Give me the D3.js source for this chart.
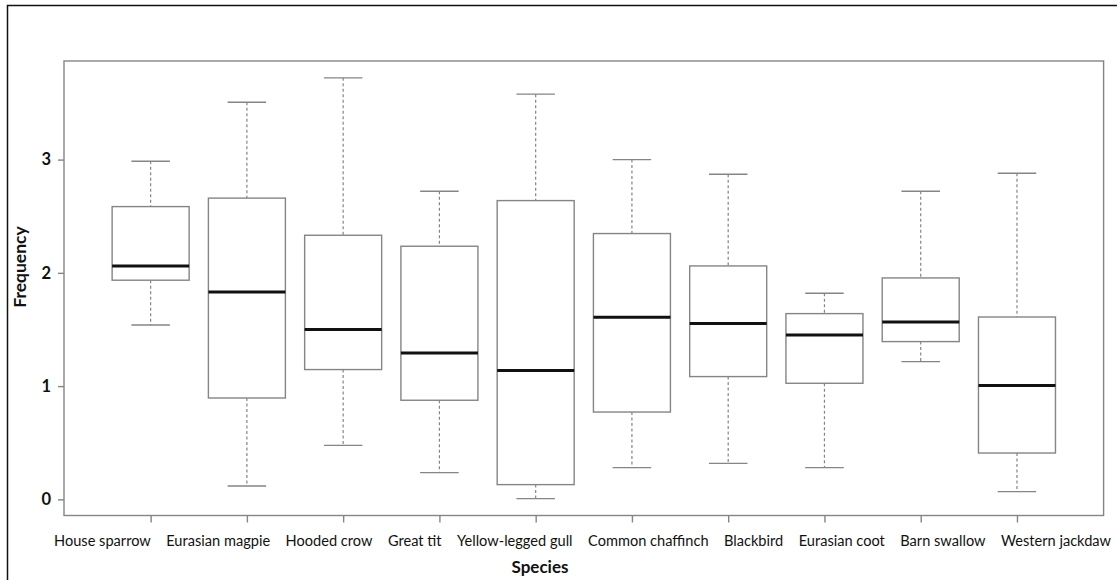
<!DOCTYPE html>
<html>
<head>
<meta charset="utf-8">
<script src="https://cdn.jsdelivr.net/npm/d3@7"></script>
<style>
  html, body { margin: 0; padding: 0; background: #fff; }
  svg { display: block; font-family: Lato, "Open Sans", sans-serif; }
</style>
</head>
<body>
<div id="chart"></div>
<script>
// Data
const species = ['House sparrow', 'Eurasian magpie', 'Hooded crow', 'Great tit', 'Yellow-legged gull',
    'Common chaffinch', 'Blackbird', 'Eurasian coot', 'Barn swallow', 'Western jackdaw'];
const whiskerLow = [1.54, 0.118, 0.477, 0.236, 0.006, 0.280, 0.318, 0.280, 1.216, 0.068];
const q1 = [1.935, 0.895, 1.146, 0.875, 0.130, 0.771, 1.084, 1.025, 1.393, 0.409];
const median = [2.06, 1.83, 1.499, 1.292, 1.137, 1.608, 1.552, 1.451, 1.566, 1.006];
const q3 = [2.585, 2.66, 2.332, 2.235, 2.638, 2.347, 2.061, 1.640, 1.955, 1.610];
const whiskerHigh = [2.985, 3.507, 3.722, 2.721, 3.578, 3.0, 2.871, 1.820, 2.721, 2.880];
const yTicks = [0, 1, 2, 3];

const width = 1117;
const height = 580;
const margin = { left: 64, right: 13.4, top: 61, bottom: 64.5 };
const boxWex = 0.8;
const frameColor = '#858585';

const svg = d3.select('#chart').append('svg')
    .attr('width', width)
    .attr('height', height);

// outer border of the figure
svg.append('rect')
    .attr('x', 7.5).attr('y', 5.5)
    .attr('width', width + 20).attr('height', height + 20)
    .attr('fill', 'none')
    .attr('stroke', '#111')
    .attr('stroke-width', 1.5);

// R style 4% padding of the ranges
const n = species.length;
const xPad = n * 0.04;
const xScale = d3.scaleLinear()
    .domain([0.5 - xPad, n + 0.5 + xPad])
    .range([margin.left, width - margin.right]);

const yMin = d3.min(whiskerLow), yMax = d3.max(whiskerHigh);
const yPad = (yMax - yMin) * 0.04;
const yScale = d3.scaleLinear()
    .domain([yMin - yPad, yMax + yPad])
    .range([height - margin.bottom, margin.top]);

const x0 = xScale.range()[0], x1 = xScale.range()[1];
const y0 = yScale.range()[1], y1 = yScale.range()[0];

// plot frame
svg.append('rect')
    .attr('x', x0).attr('y', y0)
    .attr('width', x1 - x0).attr('height', y1 - y0)
    .attr('fill', 'none')
    .attr('stroke', frameColor)
    .attr('stroke-width', 1.4);

// y axis
const yAxis = svg.append('g')
    .attr('transform', `translate(${x0}, 0)`)
    .call(d3.axisLeft(yScale).tickValues(yTicks).tickSize(6).tickPadding(7).tickFormat(d3.format('d')));
yAxis.select('.domain').remove();
yAxis.selectAll('line').attr('stroke', frameColor).attr('stroke-width', 1.4);
yAxis.selectAll('text')
    .attr('fill', '#111')
    .style('font-size', '16.5px')
    .style('font-weight', 'bold')
    .style('font-family', 'Lato, sans-serif');

// x axis ticks (labels are typed as one line under the axis)
const xAxis = svg.append('g')
    .attr('transform', `translate(0, ${y1})`)
    .call(d3.axisBottom(xScale).tickValues(d3.range(1, n + 1)).tickSize(7).tickFormat(''));
xAxis.select('.domain').remove();
xAxis.selectAll('line').attr('stroke', frameColor).attr('stroke-width', 1.4);

const labelStart = 54, labelEnd = 1111;
const labels = svg.append('g').selectAll('text')
    .data(species)
    .join('text')
    .attr('y', 545.5)
    .attr('fill', '#111')
    .style('font-size', '14.6px')
    .text(d => d);
const widths = labels.nodes().map(node => node.getComputedTextLength());
const gap = (labelEnd - labelStart - d3.sum(widths)) / (n - 1);
let cursor = labelStart;
labels.attr('x', (d, i) => {
    const pos = cursor;
    cursor += widths[i] + gap;
    return pos;
});

// axis titles
svg.append('text')
    .attr('x', 540).attr('y', 573)
    .attr('text-anchor', 'middle')
    .attr('fill', '#111')
    .style('font-size', '17px')
    .style('font-weight', 'bold')
    .text('Species');

svg.append('text')
    .attr('transform', 'translate(26, 267) rotate(-90)')
    .attr('text-anchor', 'middle')
    .attr('fill', '#111')
    .style('font-size', '17.5px')
    .style('font-weight', 'bold')
    .text('Frequency');

// boxes
const halfBox = (xScale(1 + boxWex / 2) - xScale(1));
const halfCap = halfBox / 2;
const boxes = svg.append('g').selectAll('g')
    .data(species.map((s, i) => ({
        name: s, pos: i + 1, low: whiskerLow[i], q1: q1[i], med: median[i], q3: q3[i], high: whiskerHigh[i]
    })))
    .join('g');

// whiskers
boxes.append('line')
    .attr('x1', d => xScale(d.pos)).attr('x2', d => xScale(d.pos))
    .attr('y1', d => yScale(d.high)).attr('y2', d => yScale(d.q3))
    .attr('stroke', frameColor).attr('stroke-width', 1.2).attr('stroke-dasharray', '3,2.5');
boxes.append('line')
    .attr('x1', d => xScale(d.pos)).attr('x2', d => xScale(d.pos))
    .attr('y1', d => yScale(d.q1)).attr('y2', d => yScale(d.low))
    .attr('stroke', frameColor).attr('stroke-width', 1.2).attr('stroke-dasharray', '3,2.5');

// whisker caps
['high', 'low'].forEach(key => {
    boxes.append('line')
        .attr('x1', d => xScale(d.pos) - halfCap).attr('x2', d => xScale(d.pos) + halfCap)
        .attr('y1', d => yScale(d[key])).attr('y2', d => yScale(d[key]))
        .attr('stroke', frameColor).attr('stroke-width', 1.4);
});

// box body
boxes.append('rect')
    .attr('x', d => xScale(d.pos) - halfBox)
    .attr('y', d => yScale(d.q3))
    .attr('width', halfBox * 2)
    .attr('height', d => yScale(d.q1) - yScale(d.q3))
    .attr('fill', '#fff')
    .attr('stroke', frameColor)
    .attr('stroke-width', 1.4);

// median
boxes.append('line')
    .attr('x1', d => xScale(d.pos) - halfBox).attr('x2', d => xScale(d.pos) + halfBox)
    .attr('y1', d => yScale(d.med)).attr('y2', d => yScale(d.med))
    .attr('stroke', '#111').attr('stroke-width', 3);
</script>
</body>
</html>
